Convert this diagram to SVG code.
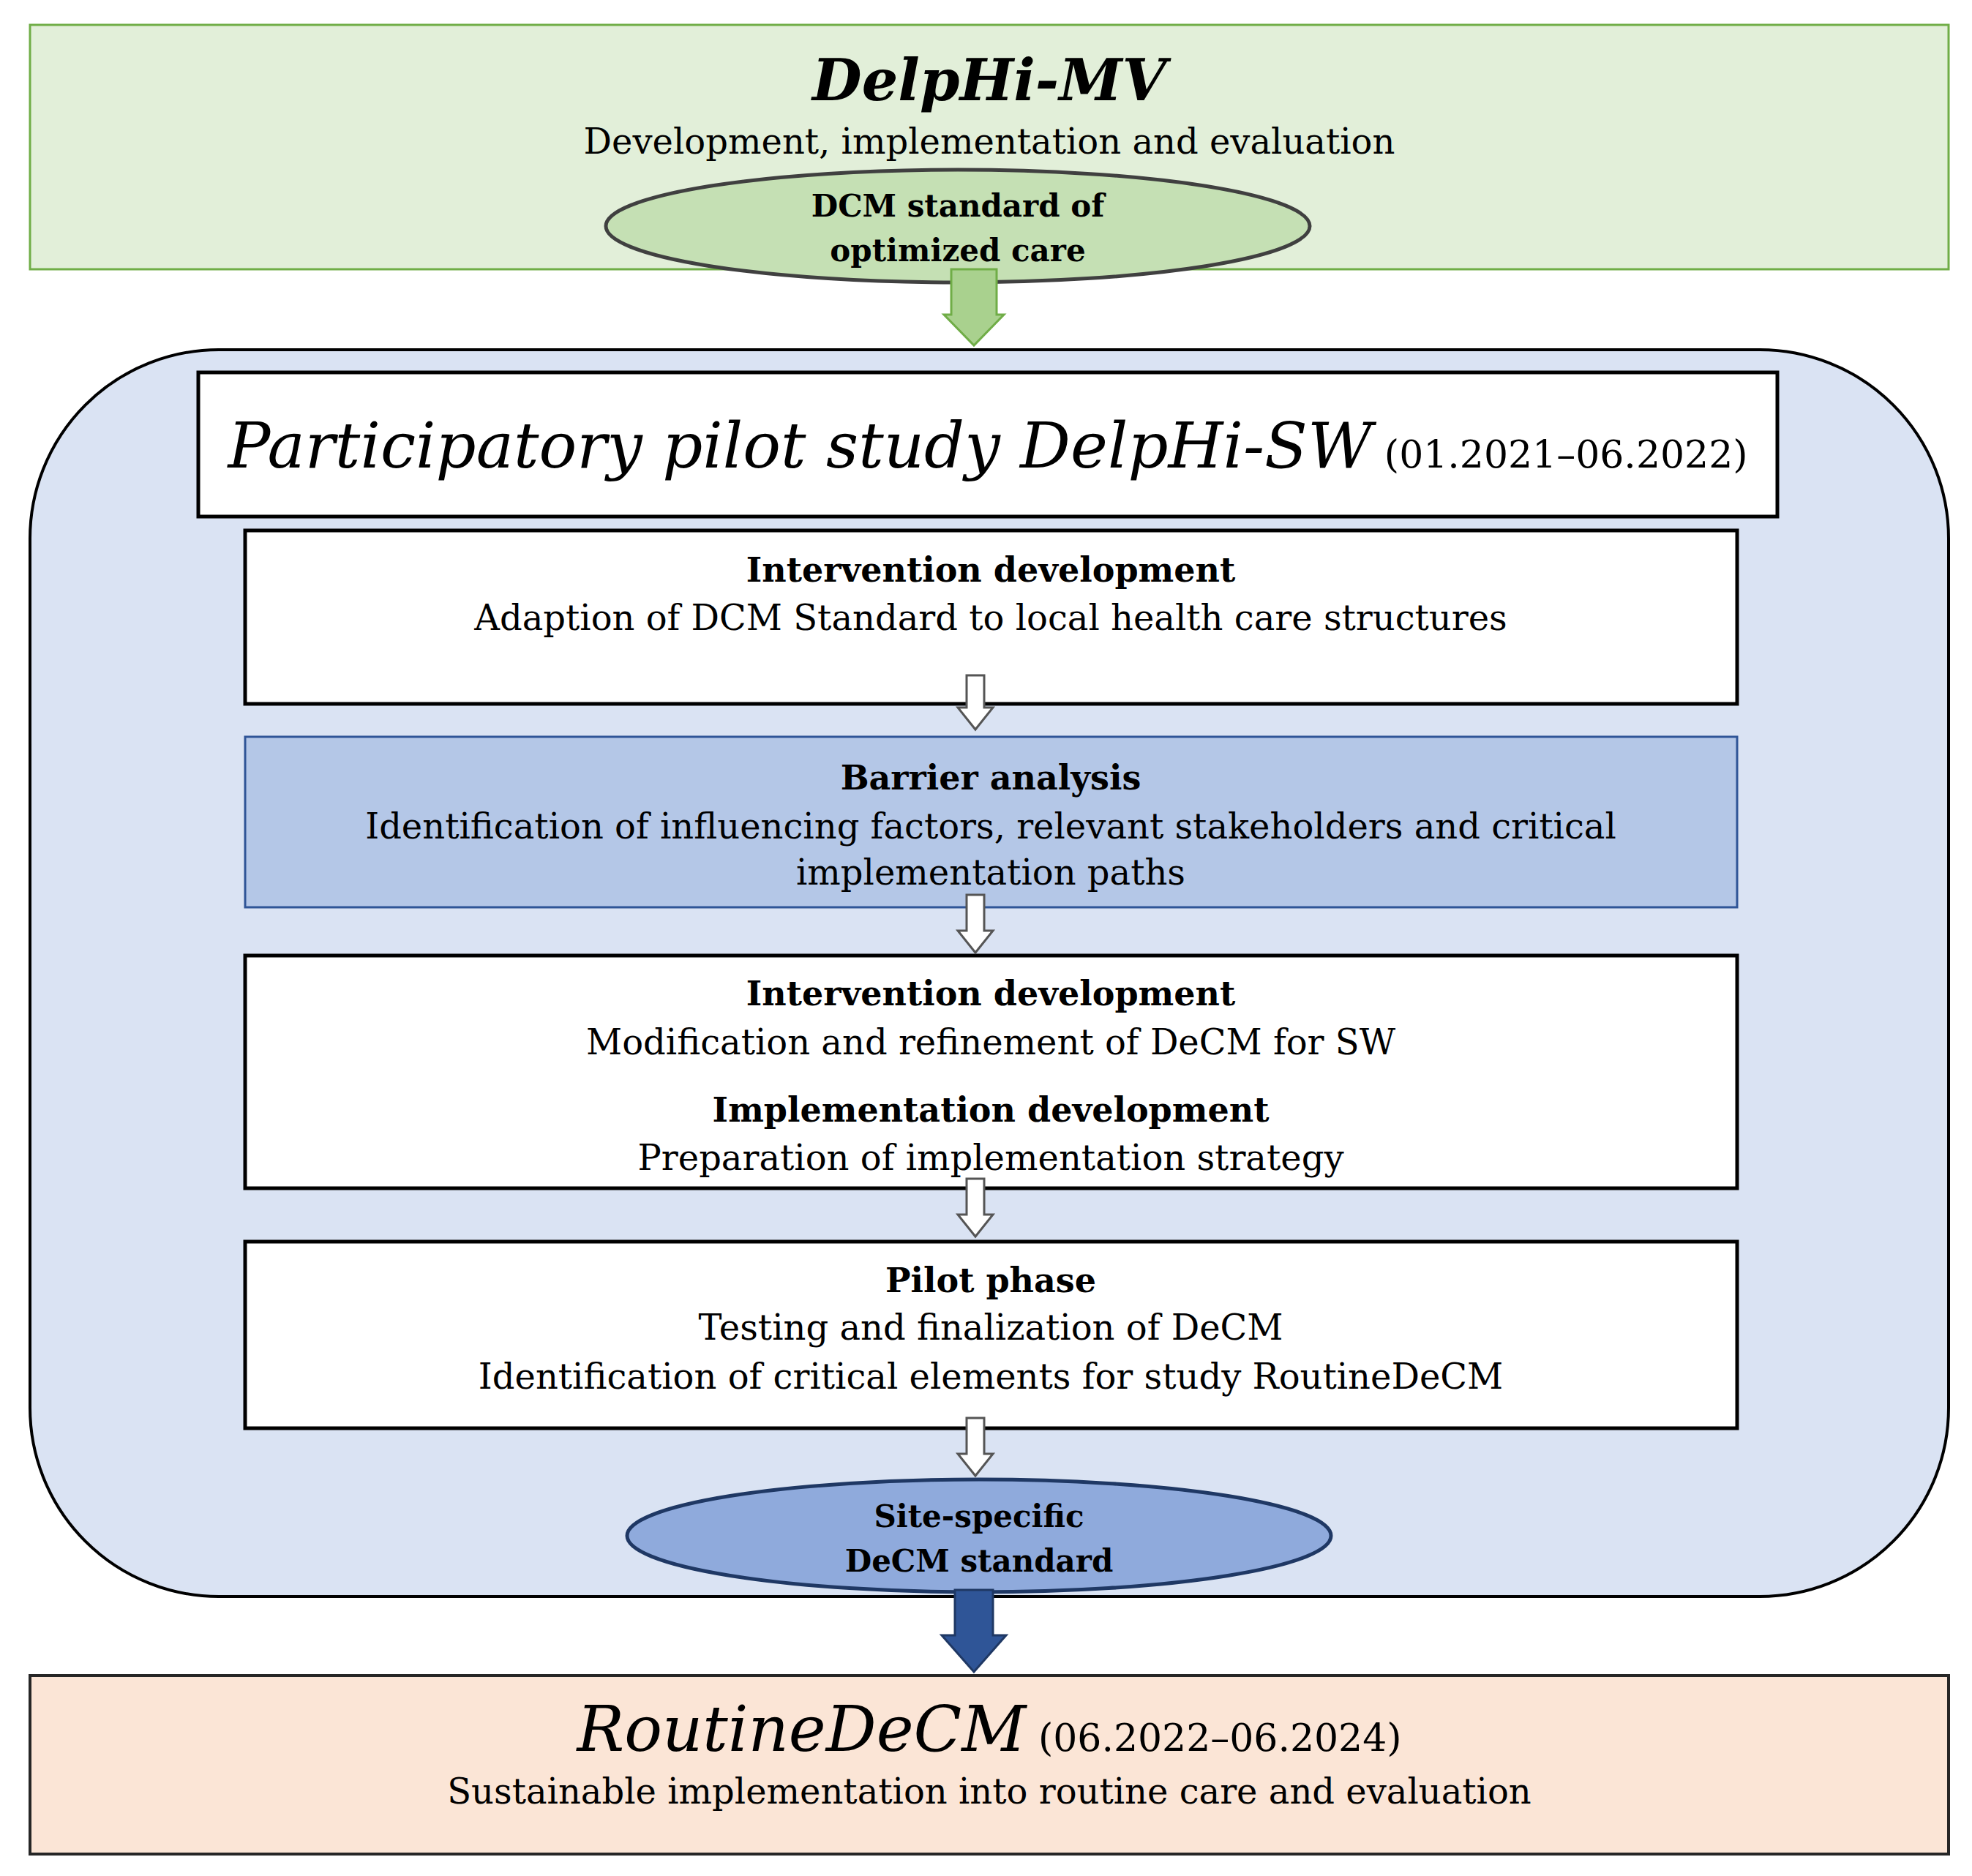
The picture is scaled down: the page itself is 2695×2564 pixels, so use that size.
<svg xmlns="http://www.w3.org/2000/svg" width="2695" height="2564" viewBox="0 0 2695 2564">
<style>
text{font-family:"DejaVu Serif","Liberation Serif",serif;text-anchor:middle;fill:#000}
.t{font-size:48px}
.b{font-size:46px;font-weight:bold}
.big{font-style:italic;font-size:86px}
.box{fill:#fff;stroke:#000;stroke-width:5}
.sa{fill:#fff;stroke:#555;stroke-width:3}
</style>
<g id="delphi-mv">
<rect x="41" y="34" width="2622" height="334" fill="#e2efd9" stroke="#70ad47" stroke-width="3"/>
<text x="1352" y="137" style="font-size:78px;font-style:italic;font-weight:bold">DelpHi-MV</text>
<text x="1352" y="210" class="t">Development, implementation and evaluation</text>
</g>
<g id="dcm-standard">
<ellipse cx="1309" cy="309" rx="481" ry="77" fill="#c5e0b4" stroke="#404040" stroke-width="5"/>
<text x="1309" y="296" class="b" style="font-size:42px">DCM standard of</text>
<text x="1309" y="357" class="b" style="font-size:42px">optimized care</text>
</g>
<g id="pilot-study">
<rect x="41" y="478" width="2622" height="1704" rx="258" fill="#dae3f3" stroke="#000" stroke-width="4"/>
<rect x="271" y="509" width="2158" height="197" class="box"/>
<text x="1350" y="639"><tspan class="big">Participatory pilot study DelpHi-SW</tspan><tspan style="font-size:52px"> (01.2021–06.2022)</tspan></text>
</g>
<g id="box1">
<rect x="335" y="725" width="2039" height="237" class="box"/>
<text x="1354" y="795" class="b">Intervention development</text>
<text x="1354" y="861" class="t">Adaption of DCM Standard to local health care structures</text>
</g>
<g id="box2">
<rect x="335" y="1007" width="2039" height="233" fill="#b4c7e7" stroke="#2f5597" stroke-width="3"/>
<text x="1354" y="1079" class="b">Barrier analysis</text>
<text x="1354" y="1146" class="t">Identification of influencing factors, relevant stakeholders and critical</text>
<text x="1354" y="1209" class="t">implementation paths</text>
</g>
<g id="box3">
<rect x="335" y="1306" width="2039" height="318" class="box"/>
<text x="1354" y="1374" class="b">Intervention development</text>
<text x="1354" y="1441" class="t">Modification and refinement of DeCM for SW</text>
<text x="1354" y="1533" class="b">Implementation development</text>
<text x="1354" y="1599" class="t">Preparation of implementation strategy</text>
</g>
<g id="box4">
<rect x="335" y="1697" width="2039" height="255" class="box"/>
<text x="1354" y="1766" class="b">Pilot phase</text>
<text x="1354" y="1831" class="t">Testing and finalization of DeCM</text>
<text x="1354" y="1898" class="t">Identification of critical elements for study RoutineDeCM</text>
</g>
<g id="site-specific">
<ellipse cx="1338" cy="2099" rx="481" ry="77" fill="#8faadc" stroke="#1f3864" stroke-width="5"/>
<text x="1338" y="2087" class="b" style="font-size:42px">Site-specific</text>
<text x="1338" y="2148" class="b" style="font-size:42px">DeCM standard</text>
</g>
<g id="routine">
<rect x="41" y="2290" width="2622" height="244" fill="#fbe5d6" stroke="#262626" stroke-width="4"/>
<text x="1352" y="2393"><tspan class="big">RoutineDeCM</tspan><tspan style="font-size:52px"> (06.2022–06.2024)</tspan></text>
<text x="1352" y="2465" class="t">Sustainable implementation into routine care and evaluation</text>
</g>
<g id="connectors">
<polygon points="1300,368 1362,368 1362,430 1372,430 1331,472 1290,430 1300,430" fill="#a9d18e" stroke="#70ad47" stroke-width="3"/>
<polygon points="1321,923 1345,923 1345,967 1357,967 1333,997 1309,967 1321,967" class="sa"/>
<polygon points="1321,1223 1345,1223 1345,1272 1357,1272 1333,1302 1309,1272 1321,1272" class="sa"/>
<polygon points="1321,1611 1345,1611 1345,1660 1357,1660 1333,1690 1309,1660 1321,1660" class="sa"/>
<polygon points="1321,1938 1345,1938 1345,1987 1357,1987 1333,2017 1309,1987 1321,1987" class="sa"/>
<polygon points="1305,2173 1357,2173 1357,2235 1375,2235 1331,2285 1287,2235 1305,2235" fill="#2f5597" stroke="#1f3864" stroke-width="3"/>
</g>
</svg>
